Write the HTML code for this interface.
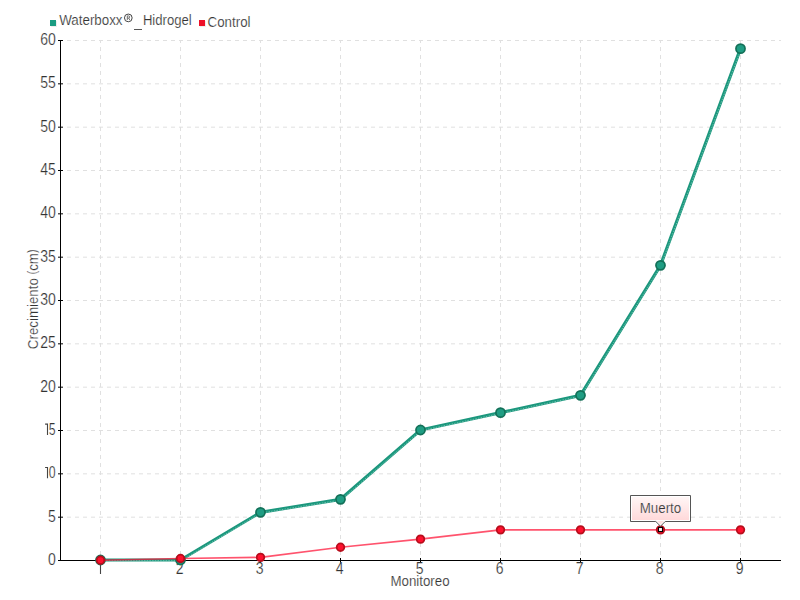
<!DOCTYPE html><html><head><meta charset="utf-8"><style>html,body{margin:0;padding:0;background:#fff;width:800px;height:600px;overflow:hidden}svg{display:block}text{font-family:"Liberation Sans",sans-serif;fill:#333;stroke:#fff;stroke-width:0.2px}</style></head><body>
<svg width="800" height="600" viewBox="0 0 800 600">
<g stroke="#e0e0e0" stroke-width="1" stroke-dasharray="4 4" fill="none">
<line x1="67" y1="517.17" x2="781" y2="517.17"/>
<line x1="67" y1="473.83" x2="781" y2="473.83"/>
<line x1="67" y1="430.5" x2="781" y2="430.5"/>
<line x1="67" y1="387.17" x2="781" y2="387.17"/>
<line x1="67" y1="343.83" x2="781" y2="343.83"/>
<line x1="67" y1="300.5" x2="781" y2="300.5"/>
<line x1="67" y1="257.17" x2="781" y2="257.17"/>
<line x1="67" y1="213.83" x2="781" y2="213.83"/>
<line x1="67" y1="170.5" x2="781" y2="170.5"/>
<line x1="67" y1="127.17" x2="781" y2="127.17"/>
<line x1="67" y1="83.83" x2="781" y2="83.83"/>
<line x1="67" y1="40.5" x2="781" y2="40.5"/>
<line x1="100.5" y1="40" x2="100.5" y2="560" stroke-dashoffset="1"/>
<line x1="180.5" y1="40" x2="180.5" y2="560" stroke-dashoffset="1"/>
<line x1="260.5" y1="40" x2="260.5" y2="560" stroke-dashoffset="1"/>
<line x1="340.5" y1="40" x2="340.5" y2="560" stroke-dashoffset="1"/>
<line x1="420.5" y1="40" x2="420.5" y2="560" stroke-dashoffset="1"/>
<line x1="500.5" y1="40" x2="500.5" y2="560" stroke-dashoffset="1"/>
<line x1="580.5" y1="40" x2="580.5" y2="560" stroke-dashoffset="1"/>
<line x1="660.5" y1="40" x2="660.5" y2="560" stroke-dashoffset="1"/>
<line x1="740.5" y1="40" x2="740.5" y2="560" stroke-dashoffset="1"/>
</g>
<g fill="#000">
<rect x="60" y="40" width="1" height="521"/>
<rect x="58" y="560" width="723" height="1"/>
<rect x="58" y="516.67" width="5" height="1"/>
<rect x="58" y="473.33" width="5" height="1"/>
<rect x="58" y="430.0" width="5" height="1"/>
<rect x="58" y="386.67" width="5" height="1"/>
<rect x="58" y="343.33" width="5" height="1"/>
<rect x="58" y="300.0" width="5" height="1"/>
<rect x="58" y="256.67" width="5" height="1"/>
<rect x="58" y="213.33" width="5" height="1"/>
<rect x="58" y="170.0" width="5" height="1"/>
<rect x="58" y="126.67" width="5" height="1"/>
<rect x="58" y="83.33" width="5" height="1"/>
<rect x="58" y="40.0" width="5" height="1"/>
<rect x="100" y="558" width="1" height="5"/>
<rect x="180" y="558" width="1" height="5"/>
<rect x="260" y="558" width="1" height="5"/>
<rect x="340" y="558" width="1" height="5"/>
<rect x="420" y="558" width="1" height="5"/>
<rect x="500" y="558" width="1" height="5"/>
<rect x="580" y="558" width="1" height="5"/>
<rect x="660" y="558" width="1" height="5"/>
<rect x="740" y="558" width="1" height="5"/>
</g>
<text x="0" y="0" font-size="15.8" text-anchor="end" transform="translate(55.8 564.9) scale(0.89 1)">0</text>
<text x="0" y="0" font-size="15.8" text-anchor="end" transform="translate(55.8 521.57) scale(0.89 1)">5</text>
<text x="0" y="0" font-size="15.8" text-anchor="end" transform="translate(55.5 478.23) scale(0.78 1)">0</text>
<path d="M45.1,467.43 H47.5 V478.23" fill="none" stroke="#444" stroke-width="1.1"/>
<text x="0" y="0" font-size="15.8" text-anchor="end" transform="translate(55.5 434.9) scale(0.78 1)">5</text>
<path d="M45.1,424.1 H47.5 V434.9" fill="none" stroke="#444" stroke-width="1.1"/>
<text x="0" y="0" font-size="15.8" text-anchor="end" transform="translate(55.8 391.57) scale(0.89 1)">20</text>
<text x="0" y="0" font-size="15.8" text-anchor="end" transform="translate(55.8 348.23) scale(0.89 1)">25</text>
<text x="0" y="0" font-size="15.8" text-anchor="end" transform="translate(55.8 304.9) scale(0.89 1)">30</text>
<text x="0" y="0" font-size="15.8" text-anchor="end" transform="translate(55.8 261.57) scale(0.89 1)">35</text>
<text x="0" y="0" font-size="15.8" text-anchor="end" transform="translate(55.8 218.23) scale(0.89 1)">40</text>
<text x="0" y="0" font-size="15.8" text-anchor="end" transform="translate(55.8 174.9) scale(0.89 1)">45</text>
<text x="0" y="0" font-size="15.8" text-anchor="end" transform="translate(55.8 131.57) scale(0.89 1)">50</text>
<text x="0" y="0" font-size="15.8" text-anchor="end" transform="translate(55.8 88.23) scale(0.89 1)">55</text>
<text x="0" y="0" font-size="15.8" text-anchor="end" transform="translate(55.8 44.9) scale(0.89 1)">60</text>
<path d="M100.5,563 V574" fill="none" stroke="#444" stroke-width="1.1"/>
<text x="0" y="0" font-size="15.8" text-anchor="middle" transform="translate(179.7 573.9) scale(0.89 1)">2</text>
<text x="0" y="0" font-size="15.8" text-anchor="middle" transform="translate(259.7 573.9) scale(0.89 1)">3</text>
<text x="0" y="0" font-size="15.8" text-anchor="middle" transform="translate(339.7 573.9) scale(0.89 1)">4</text>
<text x="0" y="0" font-size="15.8" text-anchor="middle" transform="translate(419.7 573.9) scale(0.89 1)">5</text>
<text x="0" y="0" font-size="15.8" text-anchor="middle" transform="translate(499.7 573.9) scale(0.89 1)">6</text>
<text x="0" y="0" font-size="15.8" text-anchor="middle" transform="translate(579.7 573.9) scale(0.89 1)">7</text>
<text x="0" y="0" font-size="15.8" text-anchor="middle" transform="translate(659.7 573.9) scale(0.89 1)">8</text>
<text x="0" y="0" font-size="15.8" text-anchor="middle" transform="translate(739.7 573.9) scale(0.89 1)">9</text>
<text x="0" y="0" font-size="15.5" text-anchor="middle" transform="translate(420 585.8) scale(0.86 1)">Monitoreo</text>
<text x="0" y="0" font-size="15.5" text-anchor="middle" transform="translate(37.8 299.3) rotate(-90) scale(0.86 1)">Crecimiento <tspan font-size="12.6" dy="-1.9">(</tspan><tspan dy="1.9">cm</tspan><tspan font-size="12.6" dy="-1.9">)</tspan></text>
<rect x="51" y="21" width="6" height="6" fill="#000" fill-opacity="0.07"/><rect x="50" y="20" width="6" height="6" fill="#1a9c82"/>
<text x="0" y="0" font-size="15.5" text-anchor="start" transform="translate(59.2 24.7) scale(0.862 1)">Waterboxx</text>
<circle cx="128.3" cy="17.9" r="3.85" fill="none" stroke="#444" stroke-width="1"/><path d="M127.3,20 V15.9 H128.7 Q129.7,15.9 129.7,16.95 Q129.7,18 128.7,18 H127.3 M128.6,18 L129.8,20" fill="none" stroke="#555" stroke-width="0.8"/>
<rect x="134" y="29" width="8" height="1" fill="#555"/>
<text x="0" y="0" font-size="15.5" text-anchor="start" transform="translate(142.9 24.8) scale(0.845 1)">Hidrogel</text>
<rect x="200" y="21" width="6" height="6" fill="#000" fill-opacity="0.07"/><rect x="199" y="20" width="6" height="6" fill="#ee1028"/>
<text x="0" y="0" font-size="15.5" text-anchor="start" transform="translate(207.6 26.8) scale(0.86 1)">Control</text>
<polyline points="100.5,560.00 180.5,560.00 260.5,512.33 340.5,499.33 420.5,430.00 500.5,412.67 580.5,395.33 660.5,265.33 740.5,48.67" fill="none" stroke="#1b977d" stroke-width="3.2" stroke-linejoin="round"/>
<polyline points="100.5,560.00 180.5,560.00 260.5,512.33 340.5,499.33 420.5,430.00 500.5,412.67 580.5,395.33 660.5,265.33 740.5,48.67" transform="translate(0.3 0.7)" fill="none" stroke="#c8efe4" stroke-opacity="0.55" stroke-width="0.8" stroke-dasharray="1.5 1.2" stroke-linejoin="round"/>
<circle cx="100.5" cy="560.00" r="4.55" fill="#1f9d83" stroke="#137058" stroke-width="1.7"/>
<circle cx="180.5" cy="560.00" r="4.55" fill="#1f9d83" stroke="#137058" stroke-width="1.7"/>
<circle cx="260.5" cy="512.33" r="4.55" fill="#1f9d83" stroke="#137058" stroke-width="1.7"/>
<circle cx="340.5" cy="499.33" r="4.55" fill="#1f9d83" stroke="#137058" stroke-width="1.7"/>
<circle cx="420.5" cy="430.00" r="4.55" fill="#1f9d83" stroke="#137058" stroke-width="1.7"/>
<circle cx="500.5" cy="412.67" r="4.55" fill="#1f9d83" stroke="#137058" stroke-width="1.7"/>
<circle cx="580.5" cy="395.33" r="4.55" fill="#1f9d83" stroke="#137058" stroke-width="1.7"/>
<circle cx="660.5" cy="265.33" r="4.55" fill="#1f9d83" stroke="#137058" stroke-width="1.7"/>
<circle cx="740.5" cy="48.67" r="4.55" fill="#1f9d83" stroke="#137058" stroke-width="1.7"/>
<polyline points="100.5,560.20 180.5,558.47 260.5,557.34 340.5,547.20 420.5,539.14 500.5,529.87 580.5,529.87 660.5,529.87 740.5,529.87" fill="none" stroke="#ff1035" stroke-opacity="0.72" stroke-width="1.6" stroke-linejoin="round"/>
<circle cx="100.5" cy="560.20" r="3.8" fill="#ff102e" stroke="#b80e1c" stroke-width="1.8"/>
<circle cx="180.5" cy="558.47" r="3.8" fill="#ff102e" stroke="#b80e1c" stroke-width="1.8"/>
<circle cx="260.5" cy="557.34" r="3.8" fill="#ff102e" stroke="#b80e1c" stroke-width="1.8"/>
<circle cx="340.5" cy="547.20" r="3.8" fill="#ff102e" stroke="#b80e1c" stroke-width="1.8"/>
<circle cx="420.5" cy="539.14" r="3.8" fill="#ff102e" stroke="#b80e1c" stroke-width="1.8"/>
<circle cx="500.5" cy="529.87" r="3.8" fill="#ff102e" stroke="#b80e1c" stroke-width="1.8"/>
<circle cx="580.5" cy="529.87" r="3.8" fill="#ff102e" stroke="#b80e1c" stroke-width="1.8"/>
<circle cx="660.5" cy="529.87" r="3.8" fill="#ff102e" stroke="#b80e1c" stroke-width="1.8"/>
<circle cx="740.5" cy="529.87" r="3.8" fill="#ff102e" stroke="#b80e1c" stroke-width="1.8"/>
<defs><linearGradient id="tg" x1="0" y1="0" x2="0" y2="1"><stop offset="0" stop-color="#fff6f6"/><stop offset="1" stop-color="#ffd9da"/></linearGradient></defs>
<path d="M630.5,495.5 H690.5 V521.5 H665.2 L660.5,526.2 L655.8,521.5 H630.5 Z" fill="#fff" stroke="#555" stroke-width="1"/>
<rect x="632" y="497" width="57" height="23" fill="url(#tg)"/>
<path d="M657,521 L660.5,524.5 L664,521 Z" fill="#ffe3e3"/>
<text x="0" y="0" font-size="15.5" text-anchor="middle" transform="translate(660.5 512.9) scale(0.86 1)">Muerto</text>
<rect x="658.5" y="527.5" width="4" height="4" fill="#fff" stroke="#000" stroke-width="1.1"/>
</svg></body></html>
